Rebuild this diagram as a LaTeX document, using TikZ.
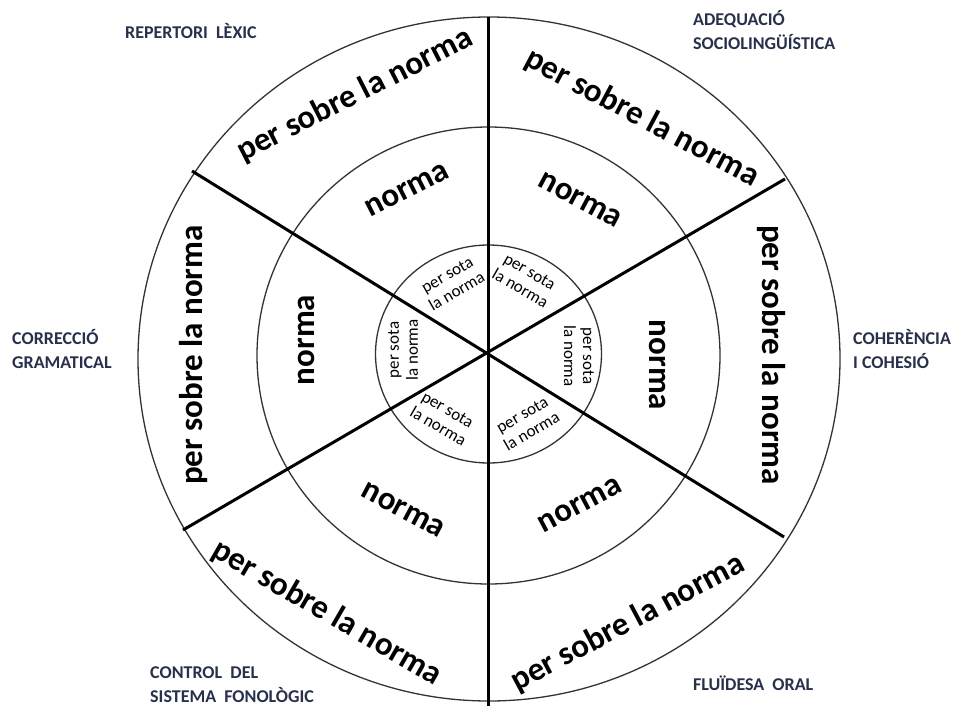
\documentclass[tikz,border=0pt]{standalone}
\usepackage{fontspec}
\setmainfont{Carlito}
\definecolor{labcol}{RGB}{40,48,75}
\begin{document}
\begin{tikzpicture}[x=1pt,y=-1pt,
  ring/.style={draw=black!80, line width=1.3pt},
  spoke/.style={draw=black, line width=3pt},
  big/.style={font=\fontsize{33}{36}\selectfont\bfseries, inner sep=0pt},
  small/.style={font=\fontsize{17}{19}\selectfont, align=center, inner sep=0pt},
  corner/.style={font=\fontsize{18}{24}\selectfont\bfseries, text=labcol, align=left, anchor=west, inner sep=0pt}]
\useasboundingbox (0,0) rectangle (955,706);
\fill[white] (0,0) rectangle (955,706);
% rings
\draw[ring] (489,359) ellipse [x radius=351, y radius=342];
\draw[ring] (488.5,355.5) ellipse [x radius=231.5, y radius=228.5];
\draw[ring] (488.5,354) ellipse [x radius=113, y radius=109];
% spokes
\coordinate (c) at (488,354);
\coordinate (top) at (488,17);
\coordinate (bot) at (488,706);
\coordinate (ul) at (192,171);
\coordinate (lr) at (784,537);
\coordinate (ll) at (183,530);
\coordinate (ur) at (785,179);
\draw[spoke] (top) -- (bot);
\draw[spoke] (ul) -- (lr);
\draw[spoke] (ll) -- (ur);
% outer ring labels
\node[big, rotate=27]  (o1) at (355,95)  {per sobre la norma};
\node[big, rotate=-28] (o2) at (642,118) {per sobre la norma};
\node[big, rotate=-90] (o3) at (771,355) {per sobre la norma};
\node[big, rotate=28]  (o4) at (628,623) {per sobre la norma};
\node[big, rotate=-30] (o5) at (327,613) {per sobre la norma};
\node[big, rotate=90]  (o6) at (194,355) {per sobre la norma};
% middle ring labels
\node[big, rotate=27]  (m1) at (407,190) {norma};
\node[big, rotate=-28] (m2) at (580,200) {norma};
\node[big, rotate=-90] (m3) at (658,365) {norma};
\node[big, rotate=28]  (m4) at (580,505) {norma};
\node[big, rotate=-28] (m5) at (403,510) {norma};
\node[big, rotate=90]  (m6) at (306,340) {norma};
% inner ring labels
\node[small, rotate=30]  (i1) at (452,283) {per sota\\la norma};
\node[small, rotate=-30] (i2) at (525,280) {per sota\\la norma};
\node[small, rotate=-90] (i3) at (579,356) {per sota\\la norma};
\node[small, rotate=30]  (i4) at (527,423) {per sota\\la norma};
\node[small, rotate=-30] (i5) at (443,418) {per sota\\la norma};
\node[small, rotate=90]  (i6) at (403,350) {per sota\\la norma};
% corner labels
\node[corner] (l1) at (125,31) {REPERTORI\ \ LÈXIC};
\node[corner] (l2) at (693,30) {ADEQUACIÓ\\SOCIOLINGÜÍSTICA};
\node[corner] (l3) at (12,349) {CORRECCIÓ\\GRAMATICAL};
\node[corner] (l4) at (853,349) {COHERÈNCIA\\I COHESIÓ};
\node[corner] (l5) at (150,685) {CONTROL\ \ DEL\\SISTEMA\ \ FONOLÒGIC};
\node[corner] (l6) at (693,683) {FLUÏDESA\ \ ORAL};
\end{tikzpicture}
\end{document}
